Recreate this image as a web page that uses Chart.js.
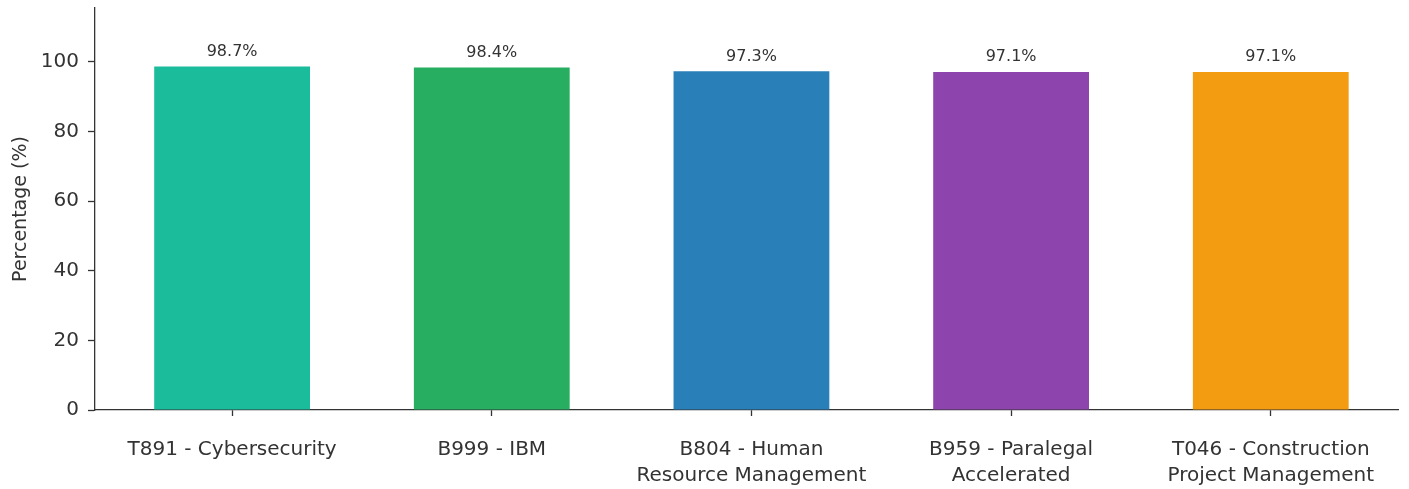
<!DOCTYPE html>
<html>
<head>
<meta charset="utf-8">
<script src="https://cdn.jsdelivr.net/npm/chart.js@4/dist/chart.umd.min.js"></script>
<style>
  html, body { margin: 0; padding: 0; background: #ffffff; }
  #wrap { width: 1409px; height: 489px; position: relative; }
</style>
</head>
<body>
<div id="wrap"><canvas id="chart"></canvas></div>
<script>
// Programme completion rates
const categories = [
  ['T891 - Cybersecurity'],
  ['B999 - IBM'],
  ['B804 - Human', 'Resource Management'],
  ['B959 - Paralegal', 'Accelerated'],
  ['T046 - Construction', 'Project Management']
];
const values = [98.7, 98.4, 97.3, 97.1, 97.1];
const barColors = ['#1abc9c', '#27ae60', '#2980b9', '#8e44ad', '#f39c12'];
const yTicks = [0, 20, 40, 60, 80, 100];

const FONT = "'DejaVu Sans', sans-serif";
const INK = '#333333';

// Writes each bar's percentage just above it
const valueLabels = {
  id: 'valueLabels',
  afterDatasetsDraw(chart) {
    const ctx = chart.ctx;
    const meta = chart.getDatasetMeta(0);
    ctx.save();
    ctx.font = `16px ${FONT}`;
    ctx.fillStyle = INK;
    ctx.textAlign = 'center';
    ctx.textBaseline = 'bottom';
    meta.data.forEach((bar, i) => {
      ctx.fillText(values[i].toFixed(1) + '%', bar.x, bar.y - 7);
    });
    ctx.restore();
  }
};

new Chart(document.getElementById('chart'), {
  type: 'bar',
  data: {
    datasets: [{
      data: values.map((v, i) => ({ x: i, y: v })),
      backgroundColor: barColors,
      borderWidth: 0,
      barPercentage: 0.6,
      categoryPercentage: 1.0
    }]
  },
  options: {
    responsive: true,
    maintainAspectRatio: false,
    animation: false,
    layout: { padding: { top: 8, right: 11, left: 0, bottom: 0 } },
    plugins: { legend: { display: false }, tooltip: { enabled: false } },
    scales: {
      x: {
        type: 'linear',
        offset: false,
        min: -0.528,
        max: 4.49,
        afterBuildTicks(scale) {
          scale.ticks = categories.map((_, i) => ({ value: i }));
        },
        afterFit(scale) {
          scale.height = 79;
          scale.paddingLeft = 0;
          scale.paddingRight = 0;
        },
        grid: {
          offset: false,
          drawOnChartArea: false,
          drawTicks: true,
          tickLength: 6,
          tickWidth: 1.3,
          tickColor: INK
        },
        border: { display: true, color: INK, width: 1.3 },
        ticks: {
          autoSkip: false,
          maxRotation: 0,
          padding: 21,
          color: INK,
          font: { family: FONT, size: 20, lineHeight: 1.3 },
          callback: (v) => categories[v]
        }
      },
      y: {
        min: 0,
        max: 115.5,
        afterBuildTicks(scale) {
          scale.ticks = yTicks.map(v => ({ value: v }));
        },
        afterFit(scale) {
          scale.width = 95;
          scale.paddingTop = 0;
          scale.paddingBottom = 0;
        },
        grid: {
          drawOnChartArea: false,
          drawTicks: true,
          tickLength: 7,
          tickWidth: 1.3,
          tickColor: INK
        },
        border: { display: true, color: INK, width: 1.3 },
        title: {
          display: true,
          text: 'Percentage (%)',
          color: INK,
          font: { family: FONT, size: 19 },
          padding: { top: 10, bottom: 4 }
        },
        ticks: {
          padding: 9,
          color: INK,
          font: { family: FONT, size: 20 }
        }
      }
    }
  },
  plugins: [valueLabels]
});
</script>
</body>
</html>
